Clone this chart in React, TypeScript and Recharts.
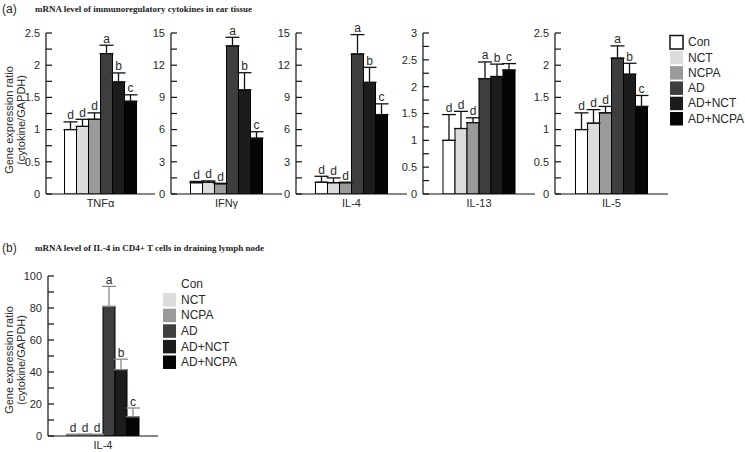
import { BarChart, Bar, XAxis, YAxis, ErrorBar, LabelList } from 'recharts';

const groups = ['Con', 'NCT', 'NCPA', 'AD', 'AD+NCT', 'AD+NCPA'];
const sigLetters = ['d', 'd', 'd', 'a', 'b', 'c'];
const barFills = ['#ffffff', '#dcdcdc', '#9a9a9a', '#3e3e3e', '#1c1c1c', '#050505'];

// panel (a): ear tissue
const tnfMeans = [1.0, 1.05, 1.16, 2.18, 1.74, 1.44];
const tnfErrs = [0.12, 0.11, 0.1, 0.13, 0.14, 0.1];
const ifnMeans = [1.05, 1.1, 0.95, 13.8, 9.7, 5.2];
const ifnErrs = [0.12, 0.12, 0.05, 0.8, 1.6, 0.6];
const il4Means = [1.1, 1.05, 1.05, 13.05, 10.4, 7.4];
const il4Errs = [0.55, 0.45, 0.05, 1.8, 1.4, 1.0];
const il13Means = [1.0, 1.22, 1.33, 2.15, 2.19, 2.31];
const il13Errs = [0.48, 0.32, 0.09, 0.31, 0.23, 0.12];
const il5Means = [1.0, 1.1, 1.26, 2.11, 1.86, 1.36];
const il5Errs = [0.26, 0.21, 0.1, 0.19, 0.17, 0.17];

// panel (b): CD4+ T cells, lymph node
const lnMeans = [0.8, 0.9, 0.8, 81, 41.5, 12];
const lnErrs = [0.3, 0.3, 0.3, 12.5, 6.5, 5.5];

const tnfTicks = [0, 0.5, 1, 1.5, 2, 2.5];
const ifnTicks = [0, 3, 6, 9, 12, 15];
const il4Ticks = [0, 3, 6, 9, 12, 15];
const il13Ticks = [0, 0.5, 1, 1.5, 2, 2.5, 3];
const il5Ticks = [0, 0.5, 1, 1.5, 2, 2.5];
const lnTicks = [0, 20, 40, 60, 80, 100];

const FONT = "'Liberation Sans', Arial, sans-serif";
const TXT = '#2a2a2a';

const withMinor = (major: number[]) => {
  const out: number[] = [];
  major.forEach((v, i) => {
    out.push(v);
    if (i < major.length - 1) out.push((v + major[i + 1]) / 2);
  });
  return out;
};

interface MiniProps {
  name: string;
  means: number[];
  errs: number[];
  ticks: number[];
  left: number;
  right: number;
  top: number;
  bottom: number;
  errColor?: string;
}

const MiniChart = ({ name, means, errs, ticks, left, right, top, bottom, errColor = '#111' }: MiniProps) => {
  const row: any = { name };
  groups.forEach((_, i) => {
    row['m' + i] = means[i];
    row['e' + i] = [0, errs[i]];
  });
  const majors = new Set(ticks);
  const plotW = right - left;
  const plotH = bottom - top;
  const yW = 34;
  const mTop = 22;
  const xH = 20;

  const YTick = (p: any) => {
    const { x, y, payload } = p;
    const ax = x + 5;
    return (
      <g>
        <line x1={ax} x2={ax + 6} y1={y} y2={y} stroke="#111" strokeWidth={1.2} />
        {majors.has(payload.value) && (
          <text x={x - 1} y={y} dy="0.35em" textAnchor="end" fontSize={11} fontFamily={FONT} fill={TXT}>
            {String(payload.value)}
          </text>
        )}
      </g>
    );
  };

  return (
    <div style={{ position: 'absolute', left: left - yW, top: top - mTop }}>
      <BarChart
        width={yW + plotW + 2}
        height={mTop + plotH + xH}
        data={[row]}
        margin={{ top: mTop, right: 2, left: 0, bottom: 0 }}
        barGap={0}
        barCategoryGap={(plotW - 72) / 2}
      >
        <XAxis
          dataKey="name"
          height={xH}
          tickLine={false}
          tickSize={0}
          tickMargin={5}
          axisLine={{ stroke: '#111', strokeWidth: 1.2 }}
          tick={{ fontSize: 11, fontFamily: FONT, fill: TXT }}
        />
        <YAxis
          width={yW}
          domain={[0, ticks[ticks.length - 1]]}
          allowDataOverflow
          ticks={withMinor(ticks)}
          interval={0}
          tickLine={false}
          tickSize={0}
          tickMargin={5}
          axisLine={{ stroke: '#111', strokeWidth: 1.2 }}
          tick={YTick}
        />
        {groups.map((g, i) => (
          <Bar key={g} dataKey={'m' + i} fill={barFills[i]} stroke="#000" strokeWidth={1} isAnimationActive={false}>
            <ErrorBar dataKey={'e' + i} width={7} stroke={errColor} strokeWidth={1.3} direction="y" />
            <LabelList
              dataKey={'m' + i}
              content={(p: any) => {
                const vb = p.viewBox || p;
                const x = vb.x ?? p.x;
                const y = vb.y ?? p.y;
                const w = vb.width ?? p.width;
                const h = vb.height ?? p.height;
                const errPx = means[i] ? (errs[i] / means[i]) * h : 0;
                return (
                  <text x={x + w / 2} y={y - errPx - 2.5} textAnchor="middle" fontSize={12} fontFamily={FONT} fill={TXT}>
                    {sigLetters[i]}
                  </text>
                );
              }}
            />
          </Bar>
        ))}
      </BarChart>
    </div>
  );
};

const Legend = ({ x, y, step, conBorder }: { x: number; y: number; step: number; conBorder: boolean }) => (
  <g>
    {groups.map((g, i) => (
      <g key={g}>
        <rect
          x={x}
          y={y + i * step - 6.5}
          width={13}
          height={13.5}
          fill={barFills[i]}
          stroke={i === 0 && conBorder ? '#111' : 'none'}
          strokeWidth={1.5}
        />
        <text x={x + 18} y={y + i * step} dy="0.35em" fontSize={12} fontFamily={FONT} fill={TXT}>
          {g}
        </text>
      </g>
    ))}
  </g>
);

const YLabel = ({ cy }: { cy: number }) => (
  <g>
    <text transform={`translate(9, ${cy}) rotate(-90)`} textAnchor="middle" dy="0.35em" fontSize={11} fontFamily={FONT} fill={TXT}>
      Gene expression ratio
    </text>
    <text transform={`translate(21, ${cy}) rotate(-90)`} textAnchor="middle" dy="0.35em" fontSize={11} fontFamily={FONT} fill={TXT}>
      (cytokine/GAPDH)
    </text>
  </g>
);

export default function App() {
  return (
    <div style={{ position: 'absolute', left: 0, top: 0, width: 745, height: 452, background: '#fff', overflow: 'hidden' }}>
      <MiniChart name="TNFα" means={tnfMeans} errs={tnfErrs} ticks={tnfTicks} left={46} right={155} top={33} bottom={194} />
      <MiniChart name="IFNγ" means={ifnMeans} errs={ifnErrs} ticks={ifnTicks} left={171} right={282} top={33} bottom={194} />
      <MiniChart name="IL-4" means={il4Means} errs={il4Errs} ticks={il4Ticks} left={296} right={407} top={33} bottom={194} />
      <MiniChart name="IL-13" means={il13Means} errs={il13Errs} ticks={il13Ticks} left={423} right={535} top={33} bottom={194} />
      <MiniChart name="IL-5" means={il5Means} errs={il5Errs} ticks={il5Ticks} left={555} right={668} top={33} bottom={194} />
      <MiniChart name="IL-4" means={lnMeans} errs={lnErrs} ticks={lnTicks} left={48} right={158} top={276} bottom={436} errColor="#8a8a8a" />

      <svg width={745} height={452} style={{ position: 'absolute', left: 0, top: 0, pointerEvents: 'none' }}>
        <text x={2} y={13} fontSize={12} fontFamily={FONT} fill={TXT}>(a)</text>
        <text x={35} y={12} fontSize={9} fontWeight="bold" fontFamily="'Liberation Serif', 'Times New Roman', serif" fill="#222">
          mRNA level of immunoregulatory cytokines in ear tissue
        </text>
        <text x={2} y={252} fontSize={12} fontFamily={FONT} fill={TXT}>(b)</text>
        <text x={35} y={251} fontSize={9} fontWeight="bold" fontFamily="'Liberation Serif', 'Times New Roman', serif" fill="#222">
          mRNA level of IL-4 in CD4+ T cells in draining lymph node
        </text>
        <YLabel cy={120} />
        <YLabel cy={360} />
        <Legend x={670} y={42} step={15.3} conBorder />
        <Legend x={163} y={284} step={15.6} conBorder={false} />
      </svg>
    </div>
  );
}
